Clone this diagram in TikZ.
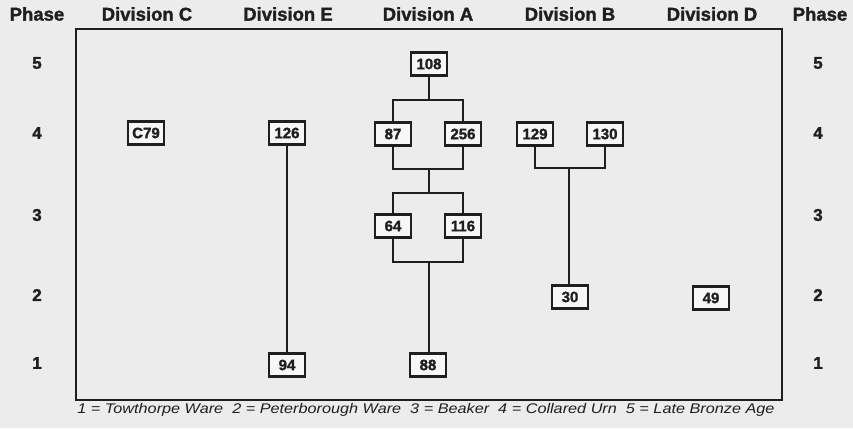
\documentclass[tikz,border=0pt]{standalone}
\usepackage{fontspec}
\setmainfont{Liberation Sans}
\newfontfamily\heavy[BoldFeatures={FakeBold=1.5}]{Liberation Sans}
\definecolor{paper}{rgb}{0.925,0.925,0.925}
\definecolor{ink}{rgb}{0.12,0.12,0.12}
\begin{document}
\begin{tikzpicture}[x=1pt,y=-1pt,
  box/.style={draw=ink,line width=2.2pt,fill=white!60!paper,minimum width=36pt,minimum height=23pt,inner sep=0pt,font=\heavy\fontsize{15}{15}\selectfont\bfseries,text=ink},
  head/.style={font=\heavy\fontsize{18.5}{18.5}\selectfont\bfseries,text=ink,inner sep=0pt},
  phnum/.style={font=\heavy\fontsize{17}{17}\selectfont\bfseries,text=ink,inner sep=0pt},
  link/.style={draw=ink,line width=2.2pt},
  frame/.style={draw=ink,line width=1.8pt}]
\fill[paper] (0,0) rectangle (853,428);
\useasboundingbox (0,0) rectangle (853,428);
\draw[frame] (76,29) rectangle (782,400);
% headers
\node[head] (hp1) at (37,14) {Phase};
\node[head] (hc) at (147,14) {Division C};
\node[head] (he) at (288,14) {Division E};
\node[head] (ha) at (428,14) {Division A};
\node[head] (hb) at (570,14) {Division B};
\node[head] (hd) at (712,14) {Division D};
\node[head] (hp2) at (820,14) {Phase};
% phase numbers
\foreach \n/\y in {5/63,4/133,3/215,2/295,1/363}{
  \node[phnum] (l\n) at (37,\y) {\n};
  \node[phnum] (r\n) at (818,\y) {\n};
}
% boxes
\node[box] (C79) at (146,133) {C79};
\node[box] (b126) at (287,133) {126};
\node[box] (b94) at (287,365) {94};
\node[box] (b108) at (429,64) {108};
\node[box] (b87) at (393,134) {87};
\node[box] (b256) at (463,134) {256};
\node[box] (b64) at (393,226) {64};
\node[box] (b116) at (463,226) {116};
\node[box] (b88) at (428,365) {88};
\node[box] (b129) at (535,134) {129};
\node[box] (b130) at (605,134) {130};
\node[box] (b30) at (570,297) {30};
\node[box] (b49) at (711,298) {49};
% junctions
\coordinate (j1) at (429,100);
\coordinate (j2) at (429,169);
\coordinate (j3) at (429,193);
\coordinate (j4) at (429,262);
\coordinate (j5) at (569,168);
% connectors
\draw[link] (b126) -- (b94);
\draw[link] (b108) -- (j1);
\draw[link] (b87.north) |- (j1) -| (b256.north);
\draw[link] (b87.south) |- (j2) -| (b256.south);
\draw[link] (j2) -- (j3);
\draw[link] (b64.north) |- (j3) -| (b116.north);
\draw[link] (b64.south) |- (j4) -| (b116.south);
\draw[link] (j4) -- (j4 |- b88.north);
\draw[link] (b129.south) |- (j5) -| (b130.south);
\draw[link] (j5) -- (j5 |- b30.north);
% caption
\node[text=ink,inner sep=0pt] (cap) at (426,410) {\scalebox{1.16}[1]{\fontsize{14}{14}\selectfont\itshape 1 = Towthorpe Ware\ \ 2 = Peterborough Ware\ \ 3 = Beaker\ \ 4 = Collared Urn\ \ 5 = Late Bronze Age}};
\end{tikzpicture}
\end{document}
